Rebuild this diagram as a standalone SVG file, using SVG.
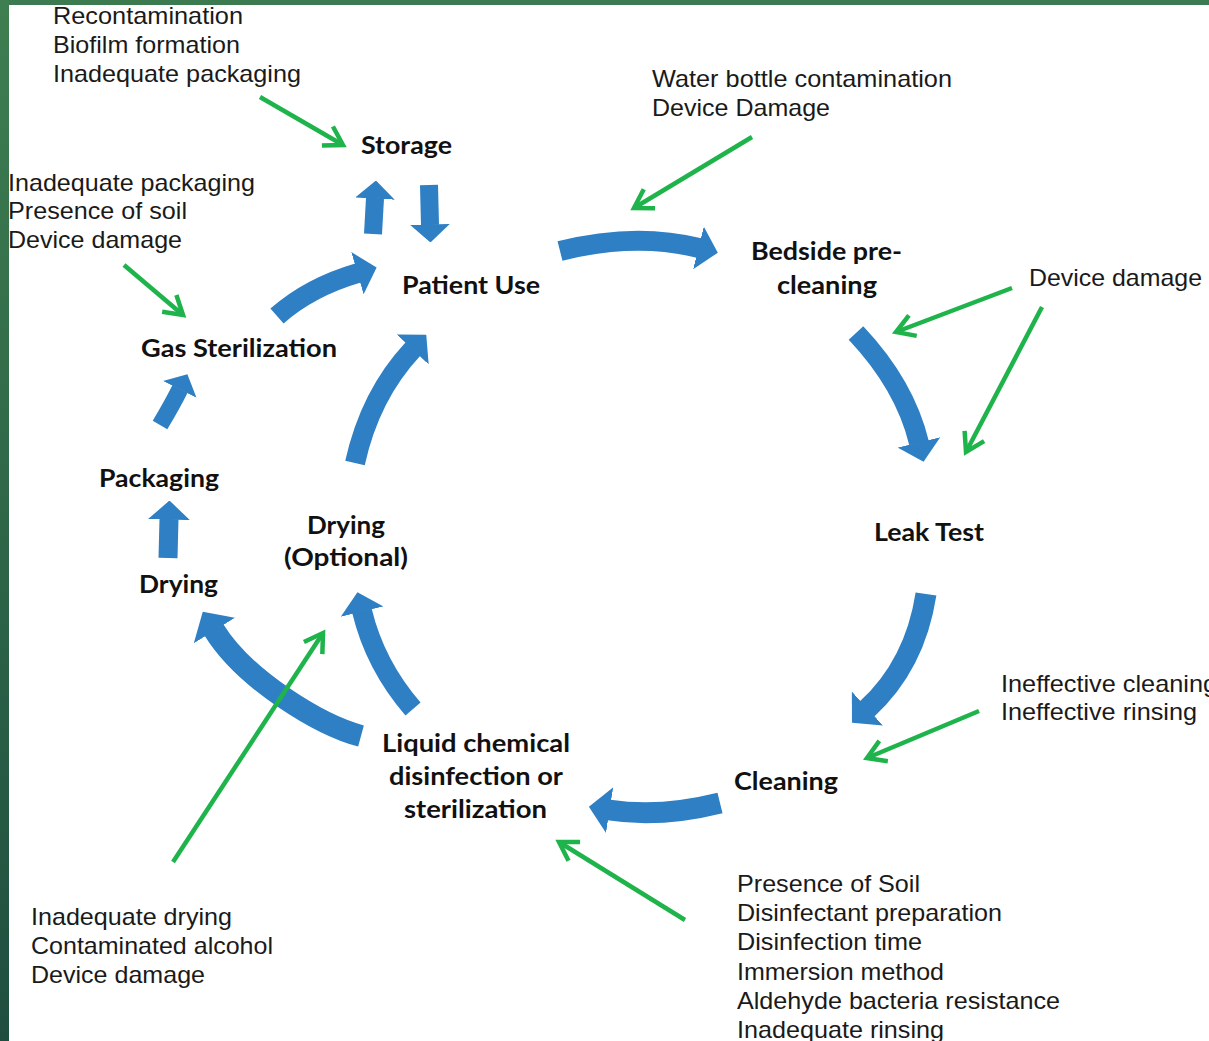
<svg xmlns="http://www.w3.org/2000/svg" width="1209" height="1041" viewBox="0 0 1209 1041">
<style>
.lbl{font-family:Lato,"Open Sans","Noto Sans",sans-serif;font-weight:bold;font-size:25px;fill:#111}
.txt{font-family:"Liberation Sans",Arial,sans-serif;font-size:24px;fill:#1a1a1a}
.blue{fill:none;stroke:#2e7fc4;stroke-linecap:butt;marker-end:url(#bh)}
.green{fill:none;stroke:#1fb34b;stroke-width:4.5;marker-end:url(#gh)}
</style>
<defs>
<linearGradient id="border" x1="0" y1="0" x2="0" y2="1">
<stop offset="0" stop-color="#3e7e50"/>
<stop offset="1" stop-color="#1f4e40"/>
</linearGradient>
<marker id="bh" markerUnits="strokeWidth" viewBox="0 0 10 22" markerWidth="1" markerHeight="2.2" refX="0.3" refY="11" orient="auto">
<path d="M0,0 L10,11 L0,22 Z" fill="#2e7fc4"/>
</marker>
<marker id="gh" markerUnits="userSpaceOnUse" viewBox="0 0 28 28" markerWidth="28" markerHeight="28" refX="20" refY="14" orient="auto">
<path d="M2,3 L20,14 L2,25" fill="none" stroke="#1fb34b" stroke-width="4.5"/>
</marker>
</defs>
<rect x="0" y="0" width="1209" height="1041" fill="#ffffff"/>
<rect x="0" y="0" width="1209" height="5" fill="#3b7b4f"/>
<rect x="0" y="0" width="9" height="1041" fill="url(#border)"/>

<g id="connectors">
<!-- blue process arrows -->
<path class="blue" stroke-width="18" d="M373,234 L375,198"/>
<path class="blue" stroke-width="18" d="M429,185 L430,225"/>
<path class="blue" stroke-width="20" d="M560,251 Q635,232 699,248"/>
<path class="blue" stroke-width="20" d="M856,333 Q905,385 919,443"/>
<path class="blue" stroke-width="21" d="M926,594 Q915,665 867,709"/>
<path class="blue" stroke-width="21" d="M720,803 Q660,818 609,810"/>
<path class="blue" stroke-width="22" d="M361,736 C320,725 245,680 214,630"/>
<path class="blue" stroke-width="20" d="M413,709 Q375,665 362,611"/>
<path class="blue" stroke-width="19" d="M168,558 L169,519"/>
<path class="blue" stroke-width="17" d="M160,425 Q172,405 180,389"/>
<path class="blue" stroke-width="20" d="M277,316 Q310,287 358,273"/>
<path class="blue" stroke-width="20" d="M355,463 Q370,395 413,349"/>
<!-- green cause arrows -->
<path class="green" d="M260,97 L343,145"/>
<path class="green" d="M124,265 L183,315"/>
<path class="green" d="M752,137 L634,208"/>
<path class="green" d="M1012,288 L896,332"/>
<path class="green" d="M1042,307 L966,452"/>
<path class="green" d="M979,711 L867,758"/>
<path class="green" d="M685,920 L559,842"/>
<path class="green" d="M173,862 L323,633"/>
</g>

<g id="storage"><text class="lbl" x="361" y="154" textLength="91" lengthAdjust="spacingAndGlyphs">Storage</text></g>
<g id="patient-use"><text class="lbl" x="402" y="294" textLength="138" lengthAdjust="spacingAndGlyphs">Patient Use</text></g>
<g id="bedside-precleaning">
<text class="lbl" x="751" y="260" textLength="151" lengthAdjust="spacingAndGlyphs">Bedside pre-</text>
<text class="lbl" x="777" y="294" textLength="100" lengthAdjust="spacingAndGlyphs">cleaning</text>
</g>
<g id="leak-test"><text class="lbl" x="874" y="541" textLength="110" lengthAdjust="spacingAndGlyphs">Leak Test</text></g>
<g id="cleaning"><text class="lbl" x="734" y="790" textLength="104" lengthAdjust="spacingAndGlyphs">Cleaning</text></g>
<g id="liquid-chemical">
<text class="lbl" x="382" y="752" textLength="188" lengthAdjust="spacingAndGlyphs">Liquid chemical</text>
<text class="lbl" x="389" y="785" textLength="174" lengthAdjust="spacingAndGlyphs">disinfection or</text>
<text class="lbl" x="404" y="818" textLength="143" lengthAdjust="spacingAndGlyphs">sterilization</text>
</g>
<g id="drying-optional">
<text class="lbl" x="307" y="534" textLength="78" lengthAdjust="spacingAndGlyphs">Drying</text>
<text class="lbl" x="284" y="566" textLength="124" lengthAdjust="spacingAndGlyphs">(Optional)</text>
</g>
<g id="drying"><text class="lbl" x="139" y="593" textLength="79" lengthAdjust="spacingAndGlyphs">Drying</text></g>
<g id="packaging"><text class="lbl" x="99" y="487" textLength="120" lengthAdjust="spacingAndGlyphs">Packaging</text></g>
<g id="gas-sterilization"><text class="lbl" x="141" y="357" textLength="196" lengthAdjust="spacingAndGlyphs">Gas Sterilization</text></g>

<g id="storage-risks">
<text class="txt" x="53" y="24" textLength="190" lengthAdjust="spacingAndGlyphs">Recontamination</text>
<text class="txt" x="53" y="53" textLength="187" lengthAdjust="spacingAndGlyphs">Biofilm formation</text>
<text class="txt" x="53" y="82" textLength="248" lengthAdjust="spacingAndGlyphs">Inadequate packaging</text>
</g>
<g id="gas-risks">
<text class="txt" x="8" y="191" textLength="247" lengthAdjust="spacingAndGlyphs">Inadequate packaging</text>
<text class="txt" x="8" y="219" textLength="179" lengthAdjust="spacingAndGlyphs">Presence of soil</text>
<text class="txt" x="8" y="248" textLength="174" lengthAdjust="spacingAndGlyphs">Device damage</text>
</g>
<g id="bedside-risks">
<text class="txt" x="652" y="87" textLength="300" lengthAdjust="spacingAndGlyphs">Water bottle contamination</text>
<text class="txt" x="652" y="116" textLength="178" lengthAdjust="spacingAndGlyphs">Device Damage</text>
</g>
<g id="leak-risks"><text class="txt" x="1029" y="286" textLength="173" lengthAdjust="spacingAndGlyphs">Device damage</text></g>
<g id="cleaning-risks">
<text class="txt" x="1001" y="692" textLength="216" lengthAdjust="spacingAndGlyphs">Ineffective cleaning</text>
<text class="txt" x="1001" y="720" textLength="196" lengthAdjust="spacingAndGlyphs">Ineffective rinsing</text>
</g>
<g id="liquid-risks">
<text class="txt" x="737" y="892" textLength="183" lengthAdjust="spacingAndGlyphs">Presence of Soil</text>
<text class="txt" x="737" y="921" textLength="265" lengthAdjust="spacingAndGlyphs">Disinfectant preparation</text>
<text class="txt" x="737" y="950" textLength="185" lengthAdjust="spacingAndGlyphs">Disinfection time</text>
<text class="txt" x="737" y="980" textLength="207" lengthAdjust="spacingAndGlyphs">Immersion method</text>
<text class="txt" x="737" y="1009" textLength="323" lengthAdjust="spacingAndGlyphs">Aldehyde bacteria resistance</text>
<text class="txt" x="737" y="1038" textLength="207" lengthAdjust="spacingAndGlyphs">Inadequate rinsing</text>
</g>
<g id="drying-risks">
<text class="txt" x="31" y="925" textLength="201" lengthAdjust="spacingAndGlyphs">Inadequate drying</text>
<text class="txt" x="31" y="954" textLength="242" lengthAdjust="spacingAndGlyphs">Contaminated alcohol</text>
<text class="txt" x="31" y="983" textLength="174" lengthAdjust="spacingAndGlyphs">Device damage</text>
</g>
</svg>
